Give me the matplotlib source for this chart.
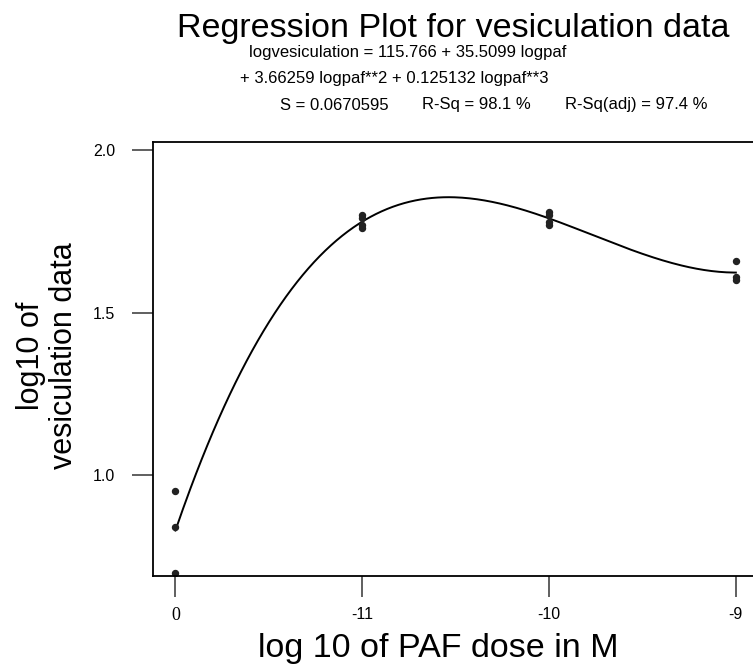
import numpy as np
from matplotlib import pyplot as plt

# log10 PAF dose (the "0" dose group is plotted at -12)
dose = [-12, -12, -12, -11, -11, -11, -11, -10, -10, -10, -10, -9, -9, -9]
vesic = [0.95, 0.84, 0.70, 1.80, 1.79, 1.77, 1.76, 1.81, 1.80, 1.78, 1.77, 1.66, 1.61, 1.60]

x_ticks = [-12, -11, -10, -9]
x_ticklabels = ['0', '-11', '-10', '-9']
y_ticks = [1.0, 1.5, 2.0]

eq_line1 = 'logvesiculation = 115.766 + 35.5099 logpaf'
eq_line2 = '+ 3.66259 logpaf**2 + 0.125132 logpaf**3'
stats = ['S = 0.0670595', 'R-Sq = 98.1 %', 'R-Sq(adj) = 97.4 %']

plt.rcParams['font.family'] = ['Liberation Sans', 'DejaVu Sans']

fig = plt.figure(figsize=(7.53, 6.67), dpi=100)
W, H = 753, 667
# axes box in pixels: left 153, right beyond the image, top 142, bottom 576
ax = fig.add_axes([153 / W, 1 - 576 / H, (762 - 153) / W, (576 - 142) / H])

coef = np.polyfit(dose, vesic, 3)
xs = np.linspace(-12, -9, 300)
ax.plot(xs, np.polyval(coef, xs), color='black', lw=1.4)
ax.plot(dose, vesic, 'o', color='#222222', ms=4.3, mec='#222222')

ax.set_xlim(-12.12, -8.86)
ax.set_ylim(0.69, 2.025)
ax.set_xticks(x_ticks)
ax.set_xticklabels(x_ticklabels)
ax.set_yticks(y_ticks)
ax.set_yticklabels(['%.1f' % v for v in y_ticks])
ax.tick_params(direction='out', length=15, width=1.2, color='#444444', labelsize=11.5)
ax.tick_params(axis='y', pad=12)
ax.tick_params(axis='x', pad=7)
ax.get_xticklabels()[0].set_fontfamily('Liberation Serif')
ax.get_xticklabels()[0].set_fontsize(13)
for s in ax.spines.values():
    s.set_linewidth(1.3)
ax.spines['right'].set_visible(False)

fig.text(453 / W, 1 - 28 / H, 'Regression Plot for vesiculation data', ha='center', va='center', fontsize=24.5)
fig.text(249 / W, 1 - 53 / H, eq_line1, ha='left', va='center', fontsize=12)
fig.text(240 / W, 1 - 79 / H, eq_line2, ha='left', va='center', fontsize=12)
for xp, t in zip([280, 422, 565], stats):
    fig.text(xp / W, 1 - 105 / H, t, ha='left', va='center', fontsize=12)

fig.text(438 / W, 1 - 648 / H, 'log 10 of PAF dose in M', ha='center', va='center', fontsize=24.5)
fig.text(31 / W, 1 - 356 / H, 'log10 of', rotation=90, ha='center', va='center', fontsize=22)
fig.text(64 / W, 1 - 356 / H, 'vesiculation data', rotation=90, ha='center', va='center', fontsize=22)

plt.savefig('out.png', dpi=100)
